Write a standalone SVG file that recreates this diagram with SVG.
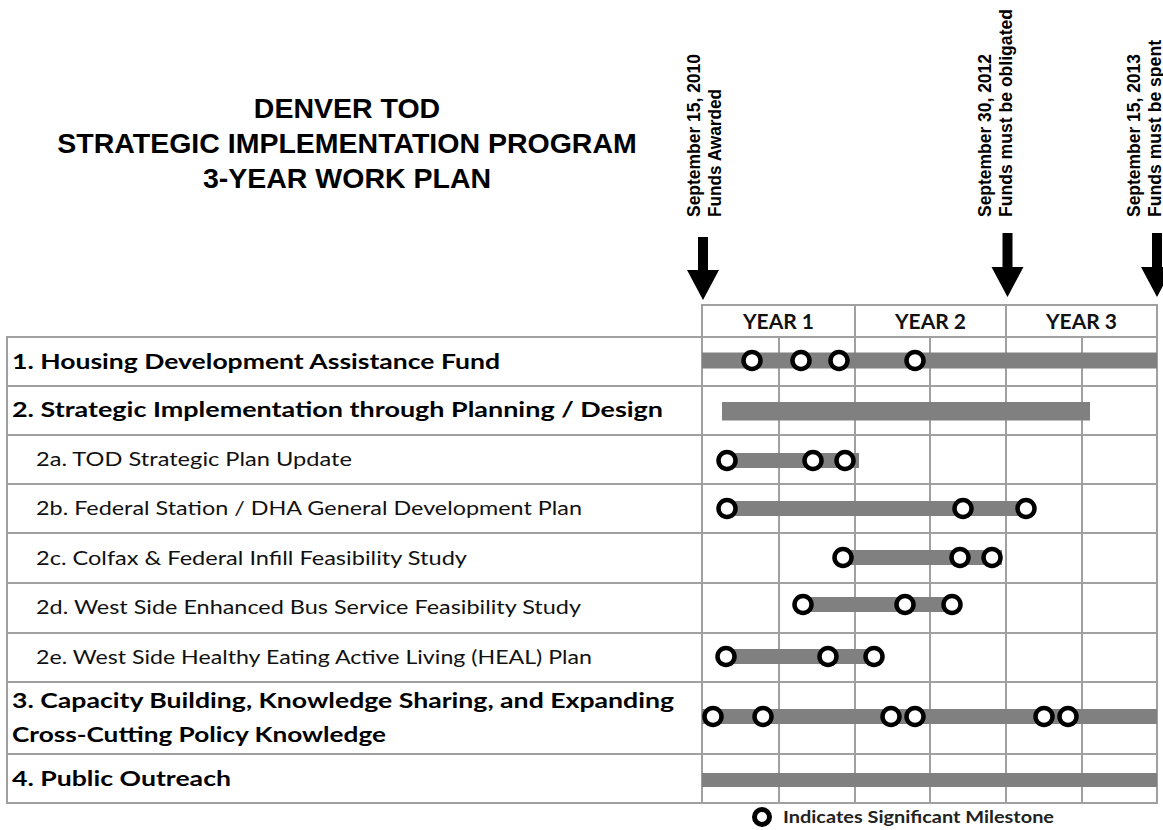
<svg xmlns="http://www.w3.org/2000/svg" width="1163" height="830" viewBox="0 0 1163 830">
<defs>
<style>
.title{font-family:"Liberation Sans",Arial,sans-serif;font-weight:bold;font-size:28.5px;fill:#000;text-anchor:middle}
.vt{font-family:"Liberation Sans",Arial,sans-serif;font-weight:bold;font-size:17.5px;fill:#000}
.grid{stroke:#a0a0a0;stroke-width:2;fill:none}
.hdr{font-family:Lato,"Open Sans",sans-serif;font-weight:bold;font-size:20px;fill:#111;text-anchor:middle}
.main{font-family:Lato,"Open Sans",sans-serif;font-weight:bold;font-size:21px;fill:#000}
.sub{font-family:Lato,"Open Sans",sans-serif;font-size:18.5px;fill:#111}
.bar{fill:#808080}
.ms{fill:#fff;stroke:#000;stroke-width:4.5}
.arrow{fill:#000}
.leg{font-family:Lato,"Open Sans",sans-serif;font-weight:bold;font-size:17px;fill:#222}
</style>
</defs>
<rect width="1163" height="830" fill="#fff"/>

<g id="title">
<text class="title" x="347" y="118">DENVER TOD</text>
<text class="title" x="347" y="153">STRATEGIC IMPLEMENTATION PROGRAM</text>
<text class="title" x="347" y="188">3-YEAR WORK PLAN</text>
</g>

<g id="label-awarded">
<text class="vt" transform="translate(700,217) rotate(-90)" textLength="163" lengthAdjust="spacingAndGlyphs">September 15, 2010</text>
<text class="vt" transform="translate(721,217) rotate(-90)" textLength="128" lengthAdjust="spacingAndGlyphs">Funds Awarded</text>
</g>
<g id="label-obligated">
<text class="vt" transform="translate(991,217) rotate(-90)" textLength="163" lengthAdjust="spacingAndGlyphs">September 30, 2012</text>
<text class="vt" transform="translate(1012,217) rotate(-90)" textLength="208" lengthAdjust="spacingAndGlyphs">Funds must be obligated</text>
</g>
<g id="label-spent">
<text class="vt" transform="translate(1140,217) rotate(-90)" textLength="163" lengthAdjust="spacingAndGlyphs">September 15, 2013</text>
<text class="vt" transform="translate(1161,217) rotate(-90)" textLength="177" lengthAdjust="spacingAndGlyphs">Funds must be spent</text>
</g>

<g id="grid">
<line class="grid" x1="702" y1="305" x2="1157" y2="305"/>
<line class="grid" x1="702" y1="337" x2="1157" y2="337"/>
<line class="grid" x1="7" y1="337" x2="702" y2="337"/>
<line class="grid" x1="7" y1="386" x2="1157" y2="386"/>
<line class="grid" x1="7" y1="435" x2="1157" y2="435"/>
<line class="grid" x1="7" y1="484" x2="1157" y2="484"/>
<line class="grid" x1="7" y1="533" x2="1157" y2="533"/>
<line class="grid" x1="7" y1="583" x2="1157" y2="583"/>
<line class="grid" x1="7" y1="633" x2="1157" y2="633"/>
<line class="grid" x1="7" y1="682" x2="1157" y2="682"/>
<line class="grid" x1="7" y1="754" x2="1157" y2="754"/>
<line class="grid" x1="7" y1="803" x2="1157" y2="803"/>
<line class="grid" x1="7" y1="336" x2="7" y2="804"/>
<line class="grid" x1="702" y1="304" x2="702" y2="804"/>
<line class="grid" x1="779" y1="337" x2="779" y2="804"/>
<line class="grid" x1="855" y1="304" x2="855" y2="804"/>
<line class="grid" x1="930" y1="337" x2="930" y2="804"/>
<line class="grid" x1="1006" y1="304" x2="1006" y2="804"/>
<line class="grid" x1="1082" y1="337" x2="1082" y2="804"/>
<line class="grid" x1="1157" y1="304" x2="1157" y2="804"/>
</g>

<g id="header">
<text class="hdr" x="778.5" y="329" textLength="71" lengthAdjust="spacingAndGlyphs">YEAR 1</text>
<text class="hdr" x="930.5" y="329" textLength="71" lengthAdjust="spacingAndGlyphs">YEAR 2</text>
<text class="hdr" x="1081.5" y="329" textLength="71" lengthAdjust="spacingAndGlyphs">YEAR 3</text>
</g>

<g id="row1">
<text class="main" x="12" y="369" textLength="488" lengthAdjust="spacingAndGlyphs">1. Housing Development Assistance Fund</text>
<rect class="bar" x="702" y="352.5" width="455" height="16"/>
<circle class="ms" cx="752" cy="360.5" r="8.5"/>
<circle class="ms" cx="801" cy="360.5" r="8.5"/>
<circle class="ms" cx="839" cy="360.5" r="8.5"/>
<circle class="ms" cx="915" cy="360.5" r="8.5"/>
</g>

<g id="row2">
<text class="main" x="12" y="417" textLength="651" lengthAdjust="spacingAndGlyphs">2. Strategic Implementation through Planning / Design</text>
<rect class="bar" x="722" y="402" width="368" height="18.5"/>
</g>

<g id="row2a">
<text class="sub" x="36" y="466" textLength="316" lengthAdjust="spacingAndGlyphs">2a. TOD Strategic Plan Update</text>
<rect class="bar" x="727" y="453" width="132" height="15"/>
<circle class="ms" cx="727" cy="460.5" r="8.5"/>
<circle class="ms" cx="813" cy="460.5" r="8.5"/>
<circle class="ms" cx="845" cy="460.5" r="8.5"/>
</g>

<g id="row2b">
<text class="sub" x="36" y="515" textLength="546" lengthAdjust="spacingAndGlyphs">2b. Federal Station / DHA General Development Plan</text>
<rect class="bar" x="727" y="501" width="299" height="15"/>
<circle class="ms" cx="727" cy="508.5" r="8.5"/>
<circle class="ms" cx="963" cy="508.5" r="8.5"/>
<circle class="ms" cx="1026" cy="508.5" r="8.5"/>
</g>

<g id="row2c">
<text class="sub" x="36" y="565" textLength="431" lengthAdjust="spacingAndGlyphs">2c. Colfax &amp; Federal Infill Feasibility Study</text>
<rect class="bar" x="843" y="550" width="159" height="15"/>
<circle class="ms" cx="843" cy="557.5" r="8.5"/>
<circle class="ms" cx="960" cy="557.5" r="8.5"/>
<circle class="ms" cx="992" cy="557.5" r="8.5"/>
</g>

<g id="row2d">
<text class="sub" x="36" y="614" textLength="545" lengthAdjust="spacingAndGlyphs">2d. West Side Enhanced Bus Service Feasibility Study</text>
<rect class="bar" x="803" y="597" width="149" height="15"/>
<circle class="ms" cx="803" cy="604.5" r="8.5"/>
<circle class="ms" cx="905" cy="604.5" r="8.5"/>
<circle class="ms" cx="952" cy="604.5" r="8.5"/>
</g>

<g id="row2e">
<text class="sub" x="36" y="664" textLength="556" lengthAdjust="spacingAndGlyphs">2e. West Side Healthy Eating Active Living (HEAL) Plan</text>
<rect class="bar" x="726" y="649" width="148" height="15"/>
<circle class="ms" cx="726" cy="656.5" r="8.5"/>
<circle class="ms" cx="828" cy="656.5" r="8.5"/>
<circle class="ms" cx="874" cy="656.5" r="8.5"/>
</g>

<g id="row3">
<text class="main" x="12" y="708" textLength="662" lengthAdjust="spacingAndGlyphs">3. Capacity Building, Knowledge Sharing, and Expanding</text>
<text class="main" x="12" y="742" textLength="374" lengthAdjust="spacingAndGlyphs">Cross-Cutting Policy Knowledge</text>
<rect class="bar" x="702" y="709" width="455" height="15"/>
<circle class="ms" cx="713" cy="716.5" r="8.5"/>
<circle class="ms" cx="763" cy="716.5" r="8.5"/>
<circle class="ms" cx="891" cy="716.5" r="8.5"/>
<circle class="ms" cx="915" cy="716.5" r="8.5"/>
<circle class="ms" cx="1044" cy="716.5" r="8.5"/>
<circle class="ms" cx="1068" cy="716.5" r="8.5"/>
</g>

<g id="row4">
<text class="main" x="12" y="786" textLength="219" lengthAdjust="spacingAndGlyphs">4. Public Outreach</text>
<rect class="bar" x="702" y="773" width="455" height="14"/>
</g>

<g id="connectors">
<polygon class="arrow" points="698,237 708,237 708,270 719,270 703,300 687,270 698,270"/>
<polygon class="arrow" points="1002.5,233 1012.5,233 1012.5,267 1023.5,267 1007.5,297 991.5,267 1002.5,267"/>
<polygon class="arrow" points="1152,233 1162,233 1162,267 1173,267 1157,297 1141,267 1152,267"/>
</g>

<g id="legend">
<circle cx="762" cy="817" r="7.5" fill="#fff" stroke="#000" stroke-width="5"/>
<text class="leg" x="783" y="823" textLength="271" lengthAdjust="spacingAndGlyphs">Indicates Significant Milestone</text>
</g>
</svg>
